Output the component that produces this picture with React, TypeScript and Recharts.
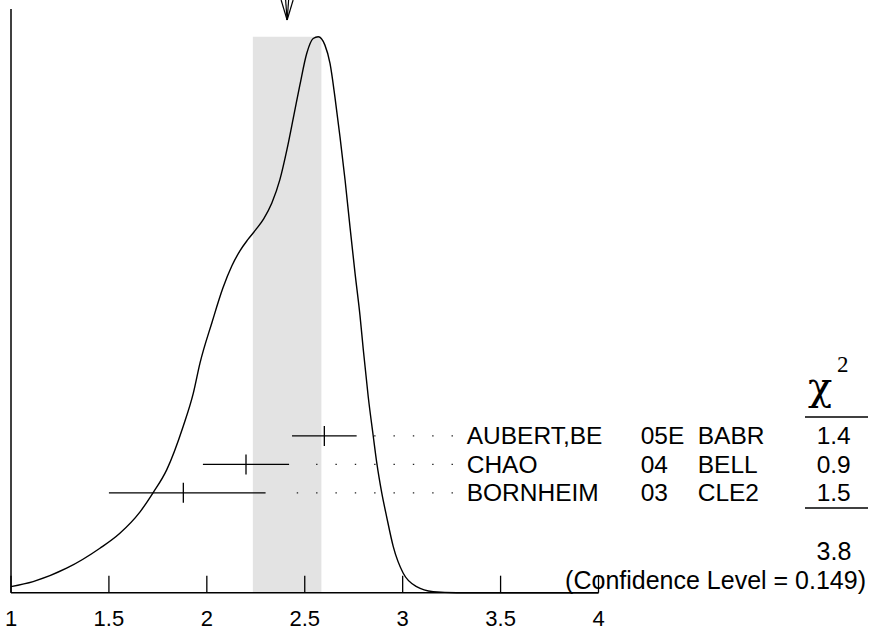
import React from 'react';
import {
  ComposedChart, Line, XAxis, YAxis, ReferenceArea, ReferenceLine, ReferenceDot, Scatter, Customized,
} from 'recharts';

// ---------- data ----------
const xTicks = [1, 1.5, 2, 2.5, 3, 3.5, 4];

// ideogram curve (x value, relative height; peak = 1)
const curveX = [1.0, 1.113, 1.284, 1.454, 1.556, 1.658, 1.726, 1.795, 1.879, 1.931, 1.965, 2.027, 2.082, 2.128, 2.169, 2.209, 2.250, 2.291, 2.332, 2.373, 2.409, 2.445, 2.475, 2.51, 2.543, 2.569, 2.603, 2.629, 2.654, 2.68, 2.706, 2.731, 2.757, 2.782, 2.799, 2.824, 2.85, 2.868, 2.893, 2.918, 2.952, 3.003, 3.071, 3.156, 3.275, 3.5, 4.0];
const curveY = [0.011, 0.020, 0.044, 0.080, 0.107, 0.145, 0.180, 0.221, 0.299, 0.359, 0.413, 0.487, 0.548, 0.588, 0.615, 0.635, 0.653, 0.673, 0.701, 0.743, 0.797, 0.860, 0.913, 0.97, 0.997, 1.0, 0.985, 0.952, 0.892, 0.82, 0.742, 0.658, 0.574, 0.499, 0.437, 0.353, 0.281, 0.233, 0.18, 0.137, 0.083, 0.035, 0.011, 0.002, 0.0, 0.0, 0.0];

const names = ['AUBERT,BE', 'CHAO', 'BORNHEIM'];
const years = ['05E', '04', '03'];
const experiments = ['BABR', 'BELL', 'CLE2'];
const values = [2.6, 2.2, 1.88];
const errLow = [0.165, 0.22, 0.38];
const errHigh = [0.165, 0.22, 0.42];
const chi2 = ['1.4', '0.9', '1.5'];
const chi2Total = '3.8';
const confidenceLevel = '0.149';
const average = 2.41;
const averageError = 0.175;

// ---------- layout ----------
const W = 870;
const H = 632;
const MARGIN = { top: 9, right: 271.5, bottom: 9.3, left: 11 };
const X_MIN = 1;
const X_MAX = 4;
const Y_MAX = 1.05;
const PX_PER_UNIT = (W - MARGIN.left - MARGIN.right) / (X_MAX - X_MIN);
const ROW_TOP = 0.282;
const ROW_STEP = 0.0512;
const DOT_END = 3.253;
const DOT_STEP = 0.0988;
const FONT = 'Liberation Sans, Arial, Helvetica, sans-serif';
const SERIF = 'DejaVu Serif, Liberation Serif, serif';

const curveData = curveX.map((x, i) => ({ x, y: curveY[i] }));
const rows = names.map((name, i) => ({
  x: values[i],
  y: ROW_TOP - i * ROW_STEP,
  lo: values[i] - errLow[i],
  hi: values[i] + errHigh[i],
  name,
  year: years[i],
  exp: experiments[i],
  chi: chi2[i],
}));

function firstDot(hi: number) {
  let d = DOT_END;
  while (d - DOT_STEP > hi + 0.075) d -= DOT_STEP;
  return d;
}

const XTick = (props: any) => {
  const { x, y, payload } = props;
  return (
    <g>
      <line x1={x} x2={x} y1={y} y2={y - 17} stroke="#000" strokeWidth={1.3} />
      <text x={x} y={y + 33} textAnchor="middle" fontSize={22} fontFamily={FONT} fill="#000">
        {payload.value}
      </text>
    </g>
  );
};

const CenterTick = (props: any) => {
  const { cx, cy } = props;
  return <line x1={cx} x2={cx} y1={cy - 10} y2={cy + 10} stroke="#000" strokeWidth={1.3} />;
};

const RowText = (props: any) => {
  const { cx, cy, payload } = props;
  const base = cy + 8.5;
  const common = { fontSize: 24.5, fontFamily: FONT, fill: '#000' } as any;
  return (
    <g>
      <text x={cx + 14.5} y={base} {...common}>{payload.name}</text>
      <text x={cx + 188.5} y={base} {...common}>{payload.year}</text>
      <text x={cx + 245.5} y={base} {...common}>{payload.exp}</text>
      <text x={cx + 381.5} y={base} textAnchor="middle" {...common}>{payload.chi}</text>
    </g>
  );
};

const Arrow = (props: any) => {
  const { cx, cy } = props;
  const top = cy - 9;
  const tip = cy + 11;
  return (
    <g stroke="#000" strokeWidth={1.2} fill="none">
      <line x1={cx - 6} y1={top} x2={cx} y2={tip} />
      <line x1={cx + 6} y1={top} x2={cx} y2={tip} />
      <line x1={cx - 1.5} y1={top} x2={cx} y2={tip} />
      <line x1={cx + 1.5} y1={top} x2={cx} y2={tip} />
    </g>
  );
};

const Summary = () => (
  <g fontFamily={FONT} fill="#000">
    <text x={808} y={400} fontSize={40} fontFamily={SERIF}>χ</text>
    <text x={837} y={372} fontSize={23} fontFamily="Liberation Serif, serif">2</text>
    <line x1={805} x2={868} y1={417} y2={417} stroke="#000" strokeWidth={1.3} />
    <line x1={805} x2={868} y1={508} y2={508} stroke="#000" strokeWidth={1.3} />
    <text x={834} y={560} textAnchor="middle" fontSize={25}>{chi2Total}</text>
    <text x={866} y={589} textAnchor="end" fontSize={25}>{`(Confidence Level = ${confidenceLevel})`}</text>
  </g>
);

export default function App() {
  const dotPeriod = DOT_STEP * PX_PER_UNIT;
  return (
    <div style={{ position: 'absolute', left: 0, top: 0, background: '#fff' }}>
      <ComposedChart width={W} height={H} margin={MARGIN}>
        <XAxis
          dataKey="x"
          type="number"
          domain={[X_MIN, X_MAX]}
          ticks={xTicks}
          tickLine={false}
          tickSize={0}
          tickMargin={0}
          tick={<XTick />}
          height={30}
          axisLine={{ stroke: '#000', strokeWidth: 1.5 }}
        />
        <YAxis type="number" domain={[0, Y_MAX]} hide />
        <ReferenceArea
          x1={average - averageError}
          x2={average + averageError}
          y1={0}
          y2={Math.max(...curveY)}
          fill="#e3e3e3"
          fillOpacity={1}
          stroke="none"
        />
        <ReferenceLine x={X_MIN} stroke="#000" strokeWidth={1.5} />
        {rows.map((r, i) => (
          <ReferenceLine
            key={'bar' + i}
            segment={[{ x: r.lo, y: r.y }, { x: r.hi, y: r.y }]}
            stroke="#000"
            strokeWidth={1.3}
          />
        ))}
        {rows.map((r, i) => (
          <ReferenceLine
            key={'dots' + i}
            segment={[{ x: firstDot(r.hi) - 0.0035, y: r.y }, { x: DOT_END + 0.004, y: r.y }]}
            stroke="#222"
            strokeWidth={1.3}
            strokeDasharray={`1.4 ${dotPeriod - 1.4}`}
          />
        ))}
        <Line
          data={curveData}
          dataKey="y"
          type="monotone"
          stroke="#000"
          strokeWidth={1.4}
          dot={false}
          activeDot={false}
          isAnimationActive={false}
        />
        <Scatter data={rows} dataKey="y" shape={<CenterTick />} isAnimationActive={false} />
        <Scatter
          data={rows.map((r) => ({ ...r, x: DOT_END }))}
          dataKey="y"
          shape={<RowText />}
          isAnimationActive={false}
        />
        <ReferenceDot x={average} y={Y_MAX} r={0} shape={<Arrow />} ifOverflow="visible" />
        <Customized component={Summary} />
      </ComposedChart>
    </div>
  );
}
